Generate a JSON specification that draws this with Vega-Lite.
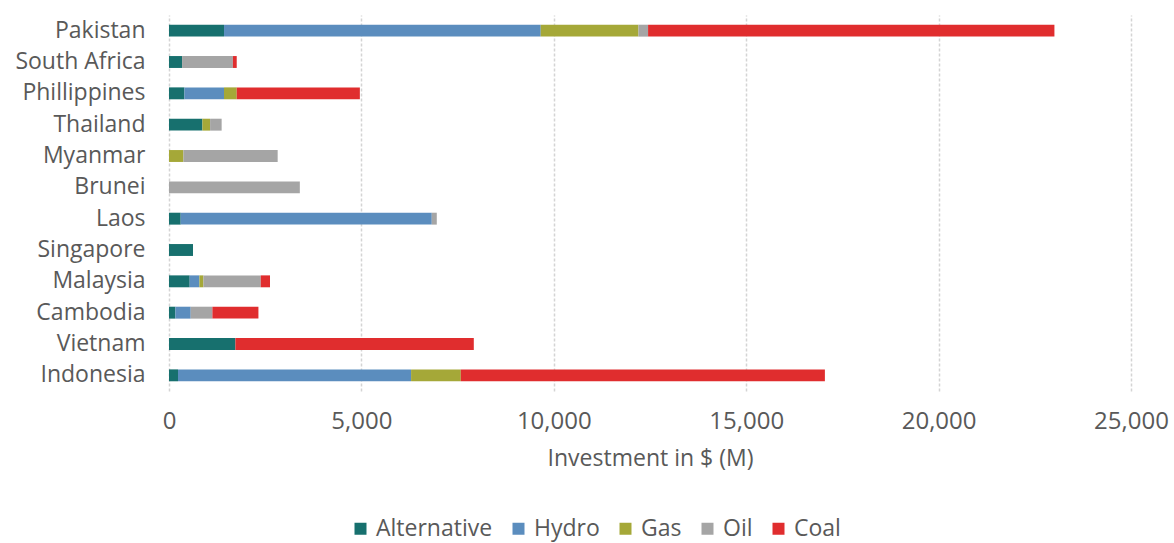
{
  "$schema": "https://vega.github.io/schema/vega-lite/v6.json",
  "autosize": {"type": "none"},
  "padding": {"left": 169, "top": 15, "right": 43, "bottom": 152},
  "width": 962,
  "height": 376,
  "background": "white",
  "config": {
    "view": {"stroke": null},
    "font": "Open Sans"
  },
  "data": {
    "values": [
      {"country": "Pakistan", "type": "Alternative", "o": 1, "value": 1430},
      {"country": "Pakistan", "type": "Hydro", "o": 2, "value": 8230},
      {"country": "Pakistan", "type": "Gas", "o": 3, "value": 2540},
      {"country": "Pakistan", "type": "Oil", "o": 4, "value": 250},
      {"country": "Pakistan", "type": "Coal", "o": 5, "value": 10560},
      {"country": "South Africa", "type": "Alternative", "o": 1, "value": 340},
      {"country": "South Africa", "type": "Oil", "o": 4, "value": 1320},
      {"country": "South Africa", "type": "Coal", "o": 5, "value": 100},
      {"country": "Phillippines", "type": "Alternative", "o": 1, "value": 400},
      {"country": "Phillippines", "type": "Hydro", "o": 2, "value": 1030},
      {"country": "Phillippines", "type": "Gas", "o": 3, "value": 330},
      {"country": "Phillippines", "type": "Coal", "o": 5, "value": 3200},
      {"country": "Thailand", "type": "Alternative", "o": 1, "value": 868},
      {"country": "Thailand", "type": "Gas", "o": 3, "value": 200},
      {"country": "Thailand", "type": "Oil", "o": 4, "value": 300},
      {"country": "Myanmar", "type": "Gas", "o": 3, "value": 374},
      {"country": "Myanmar", "type": "Oil", "o": 4, "value": 2450},
      {"country": "Brunei", "type": "Oil", "o": 4, "value": 3400},
      {"country": "Laos", "type": "Alternative", "o": 1, "value": 304},
      {"country": "Laos", "type": "Hydro", "o": 2, "value": 6525},
      {"country": "Laos", "type": "Oil", "o": 4, "value": 130},
      {"country": "Singapore", "type": "Alternative", "o": 1, "value": 624},
      {"country": "Malaysia", "type": "Alternative", "o": 1, "value": 538},
      {"country": "Malaysia", "type": "Hydro", "o": 2, "value": 252},
      {"country": "Malaysia", "type": "Gas", "o": 3, "value": 104},
      {"country": "Malaysia", "type": "Oil", "o": 4, "value": 1490},
      {"country": "Malaysia", "type": "Coal", "o": 5, "value": 241},
      {"country": "Cambodia", "type": "Alternative", "o": 1, "value": 166},
      {"country": "Cambodia", "type": "Hydro", "o": 2, "value": 398},
      {"country": "Cambodia", "type": "Oil", "o": 4, "value": 564},
      {"country": "Cambodia", "type": "Coal", "o": 5, "value": 1196},
      {"country": "Vietnam", "type": "Alternative", "o": 1, "value": 1726},
      {"country": "Vietnam", "type": "Coal", "o": 5, "value": 6195},
      {"country": "Indonesia", "type": "Alternative", "o": 1, "value": 234},
      {"country": "Indonesia", "type": "Hydro", "o": 2, "value": 6057},
      {"country": "Indonesia", "type": "Gas", "o": 3, "value": 1292},
      {"country": "Indonesia", "type": "Coal", "o": 5, "value": 9462}
    ]
  },
  "mark": {"type": "bar"},
  "encoding": {
    "y": {
      "field": "country",
      "type": "nominal",
      "sort": ["Pakistan", "South Africa", "Phillippines", "Thailand", "Myanmar", "Brunei", "Laos", "Singapore", "Malaysia", "Cambodia", "Vietnam", "Indonesia"],
      "scale": {"paddingInner": 0.62, "paddingOuter": 0.31},
      "axis": {
        "title": null,
        "domain": false,
        "ticks": false,
        "grid": false,
        "labelFontSize": 23,
        "labelColor": "#595959",
        "labelPadding": 24
      }
    },
    "x": {
      "field": "value",
      "type": "quantitative",
      "stack": "zero",
      "scale": {"domain": [0, 25000], "nice": false},
      "axis": {
        "title": "Investment in $ (M)",
        "titleFontSize": 23,
        "titleFontWeight": "normal",
        "titleColor": "#595959",
        "titlePadding": 14,
        "values": [0, 5000, 10000, 15000, 20000, 25000],
        "format": ",d",
        "labelFlush": false,
        "domain": false,
        "ticks": false,
        "grid": true,
        "gridColor": "#d4d4d4",
        "gridDash": [3, 2],
        "gridWidth": 1.5,
        "labelFontSize": 24,
        "labelColor": "#595959",
        "labelPadding": 18
      }
    },
    "color": {
      "field": "type",
      "type": "nominal",
      "scale": {
        "domain": ["Alternative", "Hydro", "Gas", "Oil", "Coal"],
        "range": ["#17706E", "#5B8DBE", "#A5A838", "#A5A5A5", "#E02D2E"]
      },
      "legend": {
        "title": null,
        "orient": "none",
        "legendX": 180,
        "legendY": 502,
        "direction": "horizontal",
        "symbolType": "square",
        "symbolSize": 144,
        "symbolStrokeWidth": 0,
        "labelFontSize": 23,
        "labelColor": "#595959",
        "columnPadding": 14,
        "labelOffset": 4
      }
    },
    "order": {"field": "o", "type": "quantitative"}
  }
}
